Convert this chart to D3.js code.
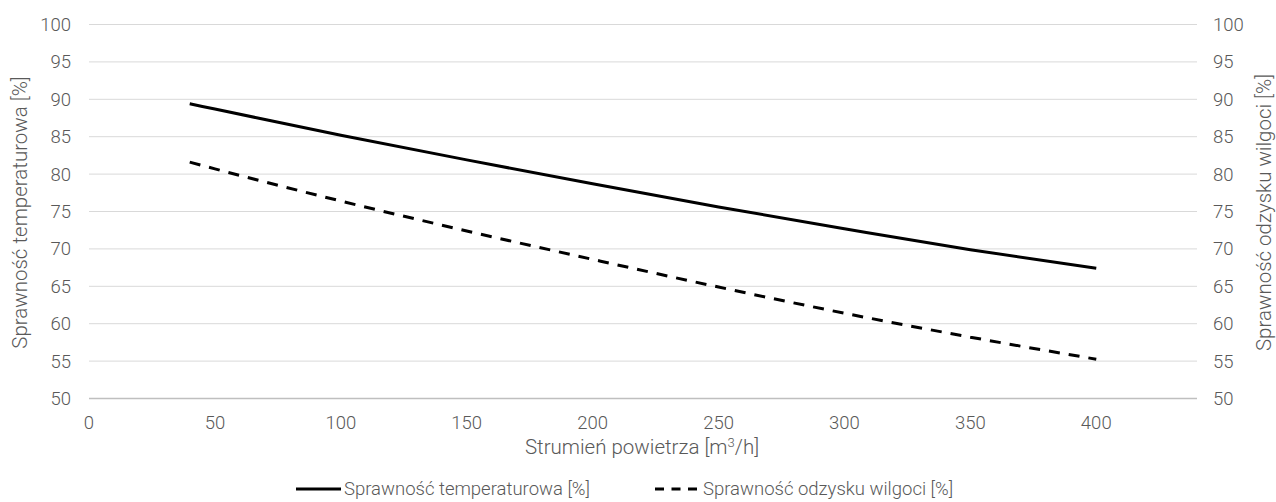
<!DOCTYPE html>
<html>
<head>
<meta charset="utf-8">
<script src="https://cdn.jsdelivr.net/npm/d3@7"></script>
<style>
  html, body { margin: 0; padding: 0; background: #fff; }
  svg { display: block; font-family: Roboto, "Noto Sans", sans-serif; }
</style>
</head>
<body>
<svg id="chart" width="1276" height="502"></svg>
<script>
// ---- data ----
const flow = [40, 50, 100, 150, 200, 250, 300, 350, 400];
const tempEff = [89.4, 88.7, 85.2, 81.9, 78.7, 75.6, 72.7, 69.9, 67.4];
const moistEff = [81.6, 80.7, 76.4, 72.4, 68.6, 64.9, 61.4, 58.2, 55.25];
const xTicks = [0, 50, 100, 150, 200, 250, 300, 350, 400];
const yTicks = [50, 55, 60, 65, 70, 75, 80, 85, 90, 95, 100];
const seriesNames = ["Sprawność temperaturowa [%]", "Sprawność odzysku wilgoci [%]"];
const xTitle = "Strumień powietrza [m";
const yLeftTitle = "Sprawność temperaturowa [%]";
const yRightTitle = "Sprawność odzysku wilgoci [%]";

// ---- layout ----
const svg = d3.select("#chart");
const mLeft = 89, mRight = 1197, mTop = 24.5, mBottom = 398.5;
const x = d3.scaleLinear().domain([0, 440]).range([mLeft, mRight]);
const y = d3.scaleLinear().domain([50, 100]).range([mBottom, mTop]);
const tickColor = "#595959";
const titleSize = 20.5;

// gridlines
svg.append("g").selectAll("line").data(yTicks.filter(d => d !== 50)).join("line")
  .attr("x1", mLeft).attr("x2", mRight)
  .attr("y1", d => y(d)).attr("y2", d => y(d))
  .attr("stroke", "#d9d9d9").attr("stroke-width", 1);
// bottom axis line
svg.append("line").attr("x1", mLeft).attr("x2", mRight)
  .attr("y1", y(50)).attr("y2", y(50))
  .attr("stroke", "#bfbfbf").attr("stroke-width", 1.3);

// left tick labels
svg.append("g").selectAll("text").data(yTicks).join("text")
  .attr("x", 71).attr("y", d => y(d)).attr("dy", "0.35em")
  .attr("text-anchor", "end").attr("fill", tickColor)
  .attr("font-size", 18.5).attr("font-weight", 300)
  .text(d => d);
// right tick labels
svg.append("g").selectAll("text").data(yTicks).join("text")
  .attr("x", 1213).attr("y", d => y(d)).attr("dy", "0.35em")
  .attr("text-anchor", "start").attr("fill", tickColor)
  .attr("font-size", 18.5).attr("font-weight", 300)
  .text(d => d);
// x tick labels
svg.append("g").selectAll("text").data(xTicks).join("text")
  .attr("x", d => x(d)).attr("y", 428.5)
  .attr("text-anchor", "middle").attr("fill", tickColor)
  .attr("font-size", 18.5).attr("font-weight", 300)
  .text(d => d);

// axis titles
const xt = svg.append("text").attr("x", (mLeft + mRight) / 2 - 1).attr("y", 454)
  .attr("text-anchor", "middle").attr("fill", tickColor)
  .attr("font-size", titleSize).attr("font-weight", 300);
xt.append("tspan").text(xTitle);
xt.append("tspan").attr("font-size", 13).attr("dy", -7).text("3");
xt.append("tspan").attr("dy", 7).text("/h]");

svg.append("text")
  .attr("transform", `translate(27,${(mTop + mBottom) / 2 + 1}) rotate(-90)`)
  .attr("text-anchor", "middle").attr("fill", tickColor)
  .attr("font-size", titleSize).attr("font-weight", 300)
  .text(yLeftTitle);
svg.append("text")
  .attr("transform", `translate(1271,${(mTop + mBottom) / 2 + 1}) rotate(-90)`)
  .attr("text-anchor", "middle").attr("fill", tickColor)
  .attr("font-size", titleSize).attr("font-weight", 300)
  .text(yRightTitle);

// lines
const line = d3.line().x((d, i) => x(flow[i])).y(d => y(d)).curve(d3.curveMonotoneX);
svg.append("path").datum(tempEff).attr("d", line)
  .attr("fill", "none").attr("stroke", "#000").attr("stroke-width", 3);
svg.append("path").datum(moistEff).attr("d", line)
  .attr("fill", "none").attr("stroke", "#000").attr("stroke-width", 3)
  .attr("stroke-dasharray", "11,9");

// legend
const lg = svg.append("g");
lg.append("line").attr("x1", 296).attr("x2", 341).attr("y1", 489).attr("y2", 489)
  .attr("stroke", "#000").attr("stroke-width", 3);
lg.append("text").attr("x", 344).attr("y", 489).attr("dy", "0.35em")
  .attr("fill", tickColor).attr("font-size", 18.5).attr("font-weight", 300)
  .text(seriesNames[0]);
lg.append("line").attr("x1", 655).attr("x2", 701).attr("y1", 489).attr("y2", 489)
  .attr("stroke", "#000").attr("stroke-width", 3).attr("stroke-dasharray", "9,7.5");
lg.append("text").attr("x", 703).attr("y", 489).attr("dy", "0.35em")
  .attr("fill", tickColor).attr("font-size", 18.5).attr("font-weight", 300)
  .text(seriesNames[1]);
</script>
</body>
</html>
